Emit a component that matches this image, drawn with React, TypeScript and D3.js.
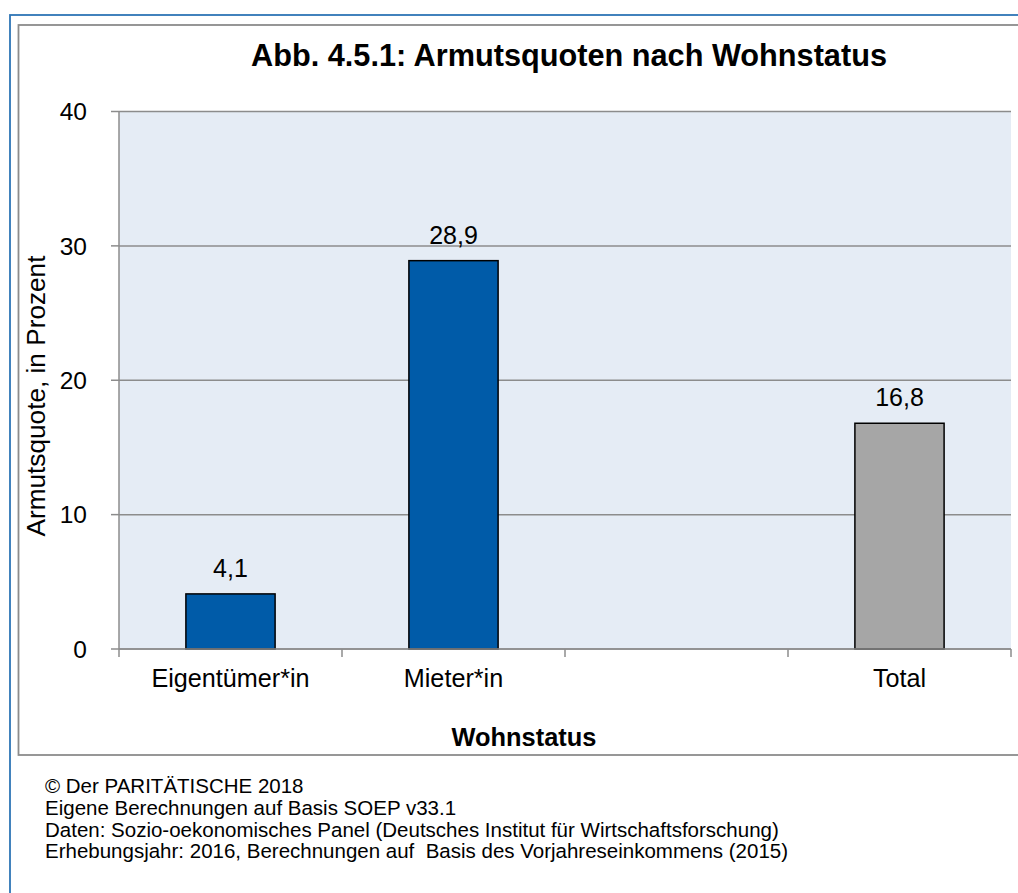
import React from "react";
import * as d3 from "d3";

const categories = ["Eigentümer*in", "Mieter*in", "(leer)", "Total"];
const categoryLabels = ["Eigentümer*in", "Mieter*in", "", "Total"];
const values: (number | null)[] = [4.1, 28.9, null, 16.8];
const valueLabels = ["4,1", "28,9", "", "16,8"];
const barColors = ["#005ba8", "#005ba8", "none", "#a6a6a6"];
const yTicks = [0, 10, 20, 30, 40];
const title = "Abb. 4.5.1: Armutsquoten nach Wohnstatus";
const xTitle = "Wohnstatus";
const yTitle = "Armutsquote, in Prozent";
const footer = [
  "© Der PARITÄTISCHE 2018",
  "Eigene Berechnungen auf Basis SOEP v33.1",
  "Daten: Sozio-oekonomisches Panel (Deutsches Institut für Wirtschaftsforschung)",
  "Erhebungsjahr: 2016, Berechnungen auf  Basis des Vorjahreseinkommens (2015)",
];

const FONT = "'Liberation Sans', Arial, Helvetica, sans-serif";

export default function App() {
  const W = 1018;
  const H = 893;
  const left = 119;
  const right = 1011;
  const top = 111.5;
  const bottom = 649;

  const x = d3
    .scaleBand<string>()
    .domain(categories)
    .range([left, right])
    .paddingInner(0.6)
    .paddingOuter(0.3);
  const y = d3.scaleLinear().domain([0, 40]).range([bottom, top]);
  const step = x.step();
  const boundaries = d3.range(categories.length + 1).map((i) => left + i * step);

  return (
    <svg
      width={W}
      height={H}
      style={{ position: "absolute", left: 0, top: 0, background: "#fff" }}
      fontFamily={FONT}
    >
      {/* outer blue border */}
      <rect x={10} y={15} width={W + 20} height={H + 20} fill="#fff" stroke="#2e75b6" strokeWidth={1.8} />
      {/* inner chart frame */}
      <rect x={18.5} y={25} width={W + 20} height={730} fill="#fff" stroke="#8c8c8c" strokeWidth={1.8} />

      {/* title */}
      <text x={569} y={66} textAnchor="middle" fontSize={30.7} fontWeight="bold" fill="#000">
        {title}
      </text>

      {/* plot background */}
      <rect x={left} y={top} width={right - left} height={bottom - top} fill="#e5ecf5" />

      {/* gridlines */}
      {yTicks.map((t) => (
        <line key={"g" + t} x1={left} x2={right} y1={y(t)} y2={y(t)} stroke="#8c8c8c" strokeWidth={1.5} />
      ))}
      {/* y axis line and ticks */}
      <line x1={left} x2={left} y1={top} y2={bottom} stroke="#8c8c8c" strokeWidth={1.5} />
      {yTicks.map((t) => (
        <g key={"yt" + t}>
          <line x1={left - 8} x2={left} y1={y(t)} y2={y(t)} stroke="#8c8c8c" strokeWidth={1.5} />
          <text x={87} y={y(t)} dy="0.36em" textAnchor="end" fontSize={24.5} fill="#000">
            {t}
          </text>
        </g>
      ))}

      {/* bars */}
      {categories.map((c, i) =>
        values[i] == null ? null : (
          <g key={"b" + c}>
            <rect
              x={x(c)!}
              y={y(values[i] as number)}
              width={x.bandwidth()}
              height={y(0) - y(values[i] as number)}
              fill={barColors[i]}
              stroke="#000"
              strokeWidth={1.5}
            />
            <text
              x={x(c)! + x.bandwidth() / 2}
              y={y(values[i] as number) - 17}
              textAnchor="middle"
              fontSize={25}
              fill="#000"
            >
              {valueLabels[i]}
            </text>
          </g>
        )
      )}

      {/* x axis line and ticks */}
      <line x1={left} x2={right} y1={bottom} y2={bottom} stroke="#8c8c8c" strokeWidth={1.5} />
      {boundaries.map((bx, i) => (
        <line key={"xt" + i} x1={bx} x2={bx} y1={bottom} y2={bottom + 8} stroke="#8c8c8c" strokeWidth={1.5} />
      ))}
      {categories.map((c, i) => (
        <text
          key={"xl" + c}
          x={x(c)! + x.bandwidth() / 2}
          y={687}
          textAnchor="middle"
          fontSize={25.2}
          fill="#000"
        >
          {categoryLabels[i]}
        </text>
      ))}

      {/* axis titles */}
      <text x={524} y={746} textAnchor="middle" fontSize={25.4} fontWeight="bold" fill="#000">
        {xTitle}
      </text>
      <text
        transform={`translate(45,396) rotate(-90)`}
        textAnchor="middle"
        fontSize={26.2}
        fill="#000"
      >
        {yTitle}
      </text>

      {/* footer */}
      {footer.map((line, i) => (
        <text
          key={"f" + i}
          x={45}
          y={793 + i * 21.8}
          fontSize={20.5}
          fill="#000"
          style={{ whiteSpace: "pre" }}
        >
          {line}
        </text>
      ))}
    </svg>
  );
}
